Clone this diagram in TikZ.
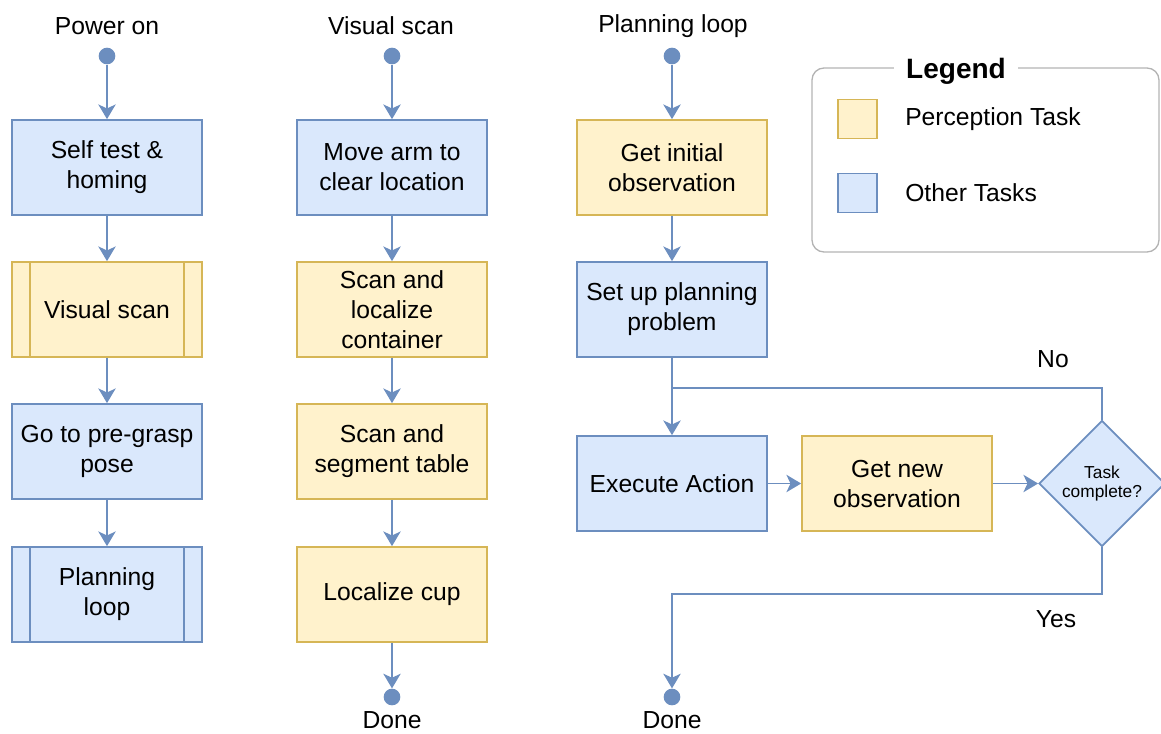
\documentclass[tikz,border=0pt]{standalone}
\usepackage{fontspec}
\setmainfont{Liberation Sans}
\usetikzlibrary{positioning,arrows.meta,shapes.geometric}
\definecolor{blueline}{HTML}{6C8EBF}
\definecolor{bluefill}{HTML}{DAE8FC}
\definecolor{goldline}{HTML}{D6B656}
\definecolor{goldfill}{HTML}{FFF2CC}
\definecolor{legline}{HTML}{B3B3B3}
\newcommand{\txt}{\fontsize{18.5}{22.5}\selectfont}
\newcommand{\smtxt}{\fontsize{13}{14.5}\selectfont}
\newcommand{\subbars}[2]{\draw[draw=#2,line width=1.3pt]
  ([xshift=14.25pt]#1.north west) -- ([xshift=14.25pt]#1.south west)
  ([xshift=-14.25pt]#1.north east) -- ([xshift=-14.25pt]#1.south east);}
\tikzset{
  blk/.style  ={draw=blueline, fill=bluefill, line width=1.3pt, align=center,
                font=\txt, minimum width=142.5pt, minimum height=71.25pt, inner sep=2pt},
  pblk/.style ={blk, draw=goldline, fill=goldfill},
  dot/.style  ={circle, fill=blueline, minimum size=12.5pt, inner sep=0pt},
  lbl/.style  ={font=\txt, inner sep=0pt},
  chk/.style  ={diamond, draw=blueline, fill=bluefill, line width=1.3pt, align=center,
                font=\smtxt, minimum width=94.5pt, minimum height=94.5pt, inner sep=0pt},
  swatch/.style={minimum width=29.25pt, minimum height=29.25pt, line width=1.3pt},
  ar/.style   ={-{Stealth[length=11pt,width=13pt,inset=3pt]}, draw=blueline, line width=1.3pt},
  ln/.style   ={draw=blueline, line width=1.3pt},
}
\begin{document}
\begin{tikzpicture}[x=0.75pt,y=-0.75pt]
\useasboundingbox (0,0) rectangle (1161,733);

% column 1: power on
\node[lbl] (pwrlbl) at (107,26) {Power on};
\node[dot] (pwr) at (107,56) {};
\node[blk] (self) at (107,167.5) {Self test \&\\homing};
\node[pblk] (vis) at (107,309.5) {Visual scan};
\subbars{vis}{goldline}
\node[blk] (pregrasp) at (107,451.5) {Go to pre-grasp\\pose};
\node[blk] (plan) at (107,594.5) {Planning\\loop};
\subbars{plan}{blueline}
\draw[ar] (pwr) -- (self);
\draw[ar] (self) -- (vis);
\draw[ar] (vis) -- (pregrasp);
\draw[ar] (pregrasp) -- (plan);

% column 2: visual scan
\node[lbl] (scanlbl) at (391,26) {Visual scan};
\node[dot] (scan) at (392,56) {};
\node[blk] (clear) at (392,167.5) {Move arm to\\clear location};
\node[pblk] (cont) at (392,309.5) {Scan and\\localize\\container};
\node[pblk] (table) at (392,451.5) {Scan and\\segment table};
\node[pblk] (cup) at (392,594.5) {Localize cup};
\node[dot] (done2) at (392,697) {};
\node[lbl] (done2lbl) at (392,720) {Done};
\draw[ar] (scan) -- (clear);
\draw[ar] (clear) -- (cont);
\draw[ar] (cont) -- (table);
\draw[ar] (table) -- (cup);
\draw[ar] (cup) -- (done2);

% column 3: planning loop
\node[lbl] (looplbl) at (673,26) {Planning loop};
\node[dot] (loop) at (672,56) {};
\node[pblk] (initobs) at (672,167.5) {Get initial\\observation};
\node[blk] (setup) at (672,309.5) {Set up planning\\problem};
\node[blk] (exec) at (672,483.5) {Execute Action};
\node[pblk] (newobs) at (897,483.5) {Get new\\observation};
\node[chk] (done) at (1102,483.5) {Task\\complete?};
\node[dot] (done3) at (672,697) {};
\node[lbl] (done3lbl) at (672,720) {Done};
\coordinate (jn) at (672,388);
\coordinate (yb) at (672,594);
\node[lbl] (nolbl) at (1053,359) {No};
\node[lbl] (yeslbl) at (1056,619) {Yes};
\draw[ar] (loop) -- (initobs);
\draw[ar] (initobs) -- (setup);
\draw[ln] (setup) -- (jn);
\draw[ar] (done.north) |- (jn) -- (exec);
\draw[ar] (exec) -- (newobs);
\draw[ar] (newobs) -- (done);
\draw[ar] (done.south) |- (yb) -- (done3);

% legend
\draw[draw=legline, line width=1pt, rounded corners=9pt] (812,68) rectangle (1159,252);
\node[font=\fontsize{21}{24}\selectfont\bfseries, fill=white, inner xsep=9pt, inner ysep=1pt] (leg) at (956,71) {Legend};
\node[swatch, draw=goldline, fill=goldfill] (sw1) at (857.5,119) {};
\node[swatch, draw=blueline, fill=bluefill] (sw2) at (857.5,193) {};
\node[lbl, anchor=west] (perc) at (905,119) {Perception Task};
\node[lbl, anchor=west] (other) at (905,193) {Other Tasks};
\end{tikzpicture}
\end{document}
